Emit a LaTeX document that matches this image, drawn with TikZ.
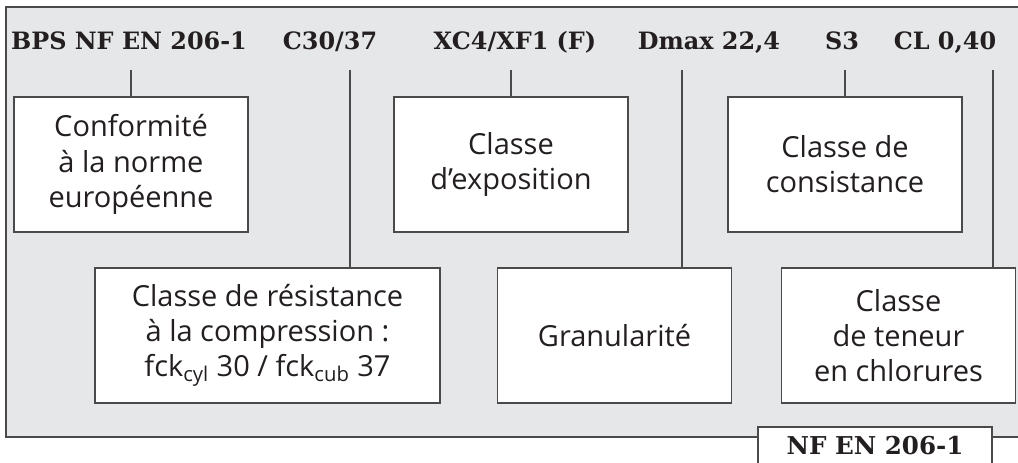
\documentclass[tikz,border=0pt]{standalone}
\usepackage{fontspec}
\setmainfont{Open Sans}
\newfontfamily\codefont{DejaVu Serif}
\usetikzlibrary{positioning}
\definecolor{panelGray}{HTML}{E6E7E8}
\definecolor{lineDark}{HTML}{4A4A4A}
\definecolor{inkBlack}{HTML}{231F20}

\begin{document}
\begin{tikzpicture}[
    x=0.02cm, y=-0.02cm,
    codelabel/.style={anchor=base, inner sep=0pt, font=\codefont\bfseries\fontsize{13.6}{16}\selectfont, text=inkBlack},
    infobox/.style={rectangle, draw=lineDark, line width=0.8pt, fill=white, minimum width=4.68cm, minimum height=2.7cm, align=center, inner sep=0pt, font=\fontsize{16.5}{20}\selectfont, text=inkBlack},
    tabbox/.style={rectangle, draw=lineDark, line width=0.8pt, fill=white, minimum width=4.68cm, minimum height=0.76cm, inner sep=0pt, font=\codefont\bfseries\fontsize{14}{16}\selectfont, text=inkBlack},
    link/.style={draw=lineDark, line width=0.8pt}
  ]
  \useasboundingbox (0,0) rectangle (1018,463);
  \clip (0,0) rectangle (1018,463);
  % panel
  \draw[fill=panelGray, draw=lineDark, line width=0.8pt] (6,7) rectangle (1040,437);

  % code line
  \node[codelabel] (bps) at (129,50) {BPS NF EN 206-1};
  \node[codelabel] (cls) at (330,50) {C30/37};
  \node[codelabel] (expo) at (515,50) {XC4/XF1 (F)};
  \node[codelabel] (dmax) at (709,50) {Dmax 22,4};
  \node[codelabel] (cons) at (842,50) {S3};
  \node[codelabel] (chl) at (945,50) {CL 0,40};

  % meaning boxes
  \node[infobox] (confBox) at (131,164.5) {Conformité\\à la norme\\européenne};
  \node[infobox] (expoBox) at (511,164.5) {Classe\\d’exposition};
  \node[infobox] (consBox) at (845,164.5) {Classe de\\consistance};
  \node[infobox, minimum width=6.9cm] (resBox) at (267.5,335.5) {Classe de résistance\\à la compression :\\fck\textsubscript{cyl} 30 / fck\textsubscript{cub} 37};
  \node[infobox] (granBox) at (614.5,335.5) {Granularité};
  \node[infobox] (chlBox) at (898.5,335.5) {Classe\\de teneur\\en chlorures};

  % leader lines
  \coordinate (bpsFoot) at (131,70);
  \coordinate (clsFoot) at (350,70);
  \coordinate (expoFoot) at (511,70);
  \coordinate (dmaxFoot) at (682,70);
  \coordinate (consFoot) at (845,70);
  \coordinate (chlFoot) at (993,70);
  \draw[link] (bpsFoot) -- (confBox.north);
  \draw[link] (clsFoot) -- (clsFoot |- resBox.north);
  \draw[link] (expoFoot) -- (expoBox.north);
  \draw[link] (dmaxFoot) -- (dmaxFoot |- granBox.north);
  \draw[link] (consFoot) -- (consBox.north);
  \draw[link] (chlFoot) -- (chlFoot |- chlBox.north);

  % standard tab
  \node[tabbox] (nfTab) at (875,446) {NF EN 206-1};
\end{tikzpicture}
\end{document}
